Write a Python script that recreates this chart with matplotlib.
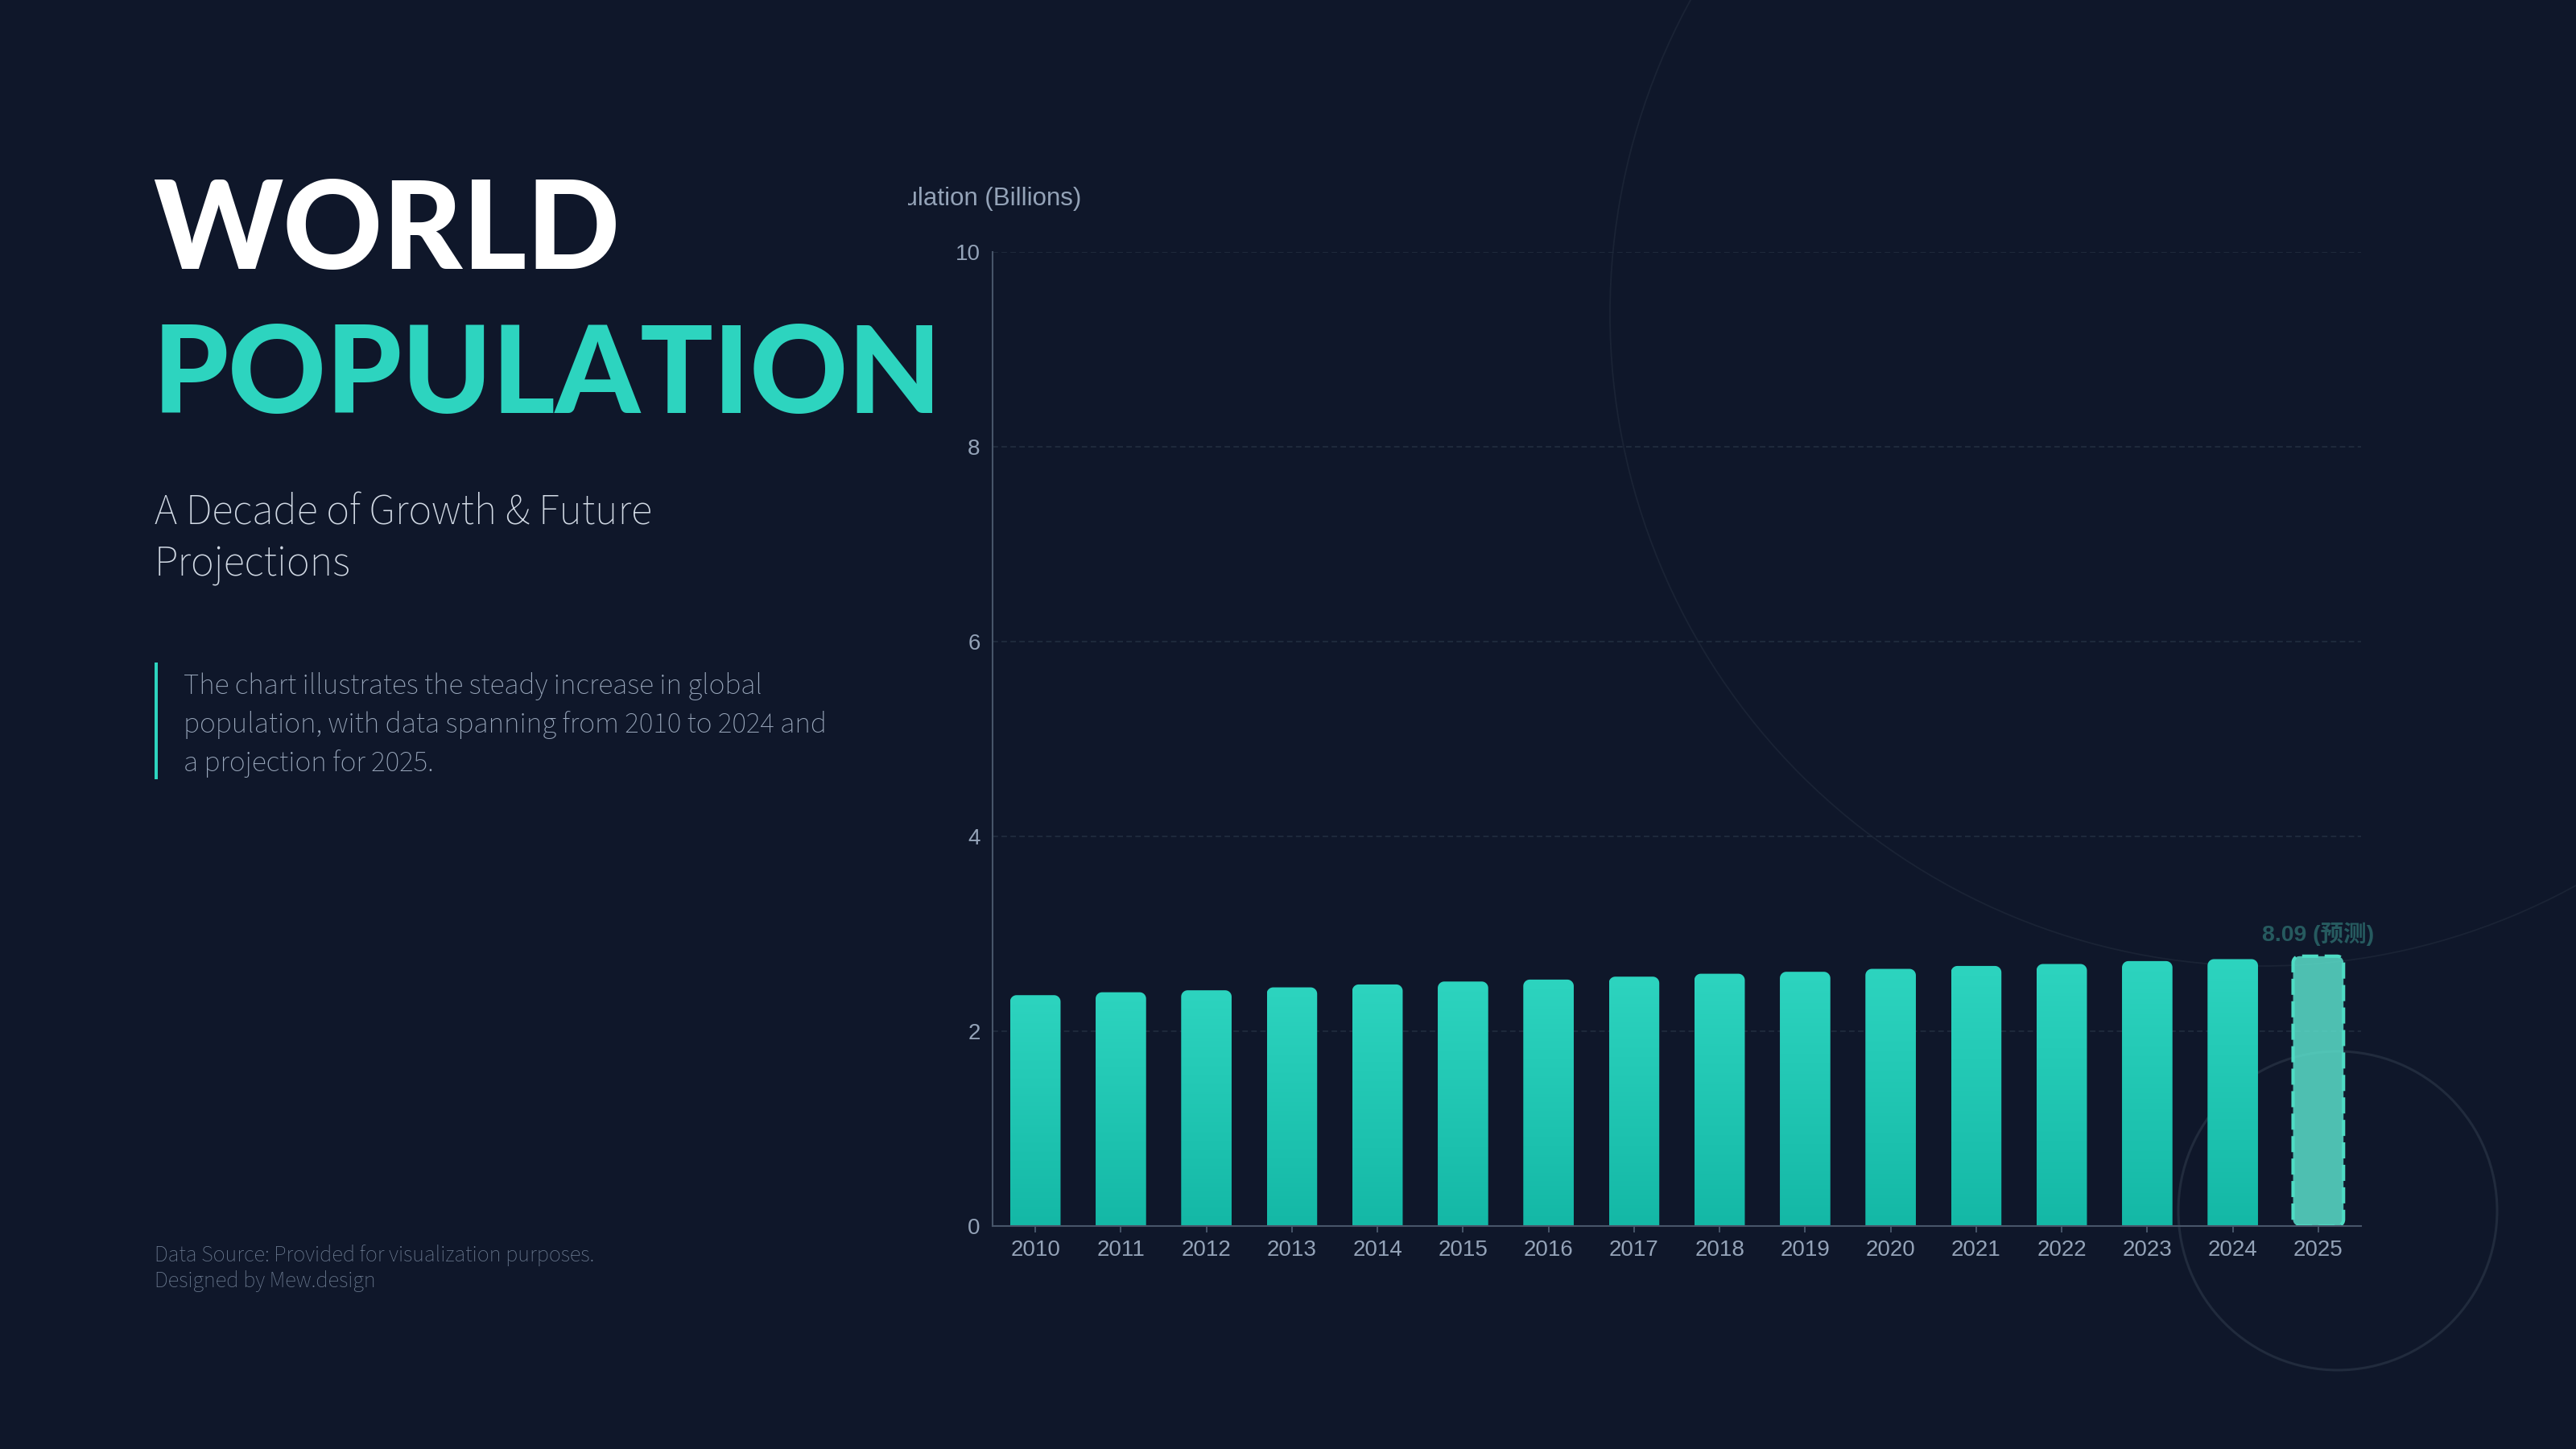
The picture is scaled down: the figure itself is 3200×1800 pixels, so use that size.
import numpy as np
import matplotlib
matplotlib.use("Agg")
import matplotlib.pyplot as plt
import matplotlib.font_manager as fm
from matplotlib.patches import Circle, PathPatch, Rectangle
from matplotlib.path import Path
from matplotlib.transforms import Bbox

# data (bar heights on the drawn 0-10 axis)
years = ["2010", "2011", "2012", "2013", "2014", "2015", "2016", "2017",
         "2018", "2019", "2020", "2021", "2022", "2023", "2024", "2025"]
heights = [2.37, 2.40, 2.42, 2.45, 2.48, 2.51, 2.53, 2.56,
           2.59, 2.61, 2.64, 2.67, 2.69, 2.72, 2.74, 2.77]
y_ticks = [0, 2, 4, 6, 8, 10]
forecast_label = "8.09 (预测)"
y_label = "Population (Billions)"

title_1 = "WORLD"
title_2 = "POPULATION"
subtitle = ["A Decade of Growth & Future", "Projections"]
paragraph = ["The chart illustrates the steady increase in global",
             "population, with data spanning from 2010 to 2024 and",
             "a projection for 2025."]
footer = ["Data Source: Provided for visualization purposes.",
          "Designed by Mew.design"]

BG = "#0f172a"
TEAL = "#2dd4bf"
TEAL_DARK = "#14b8a6"
W, H = 3200, 1800


def font_weight(f):
    w = f.weight
    if isinstance(w, str):
        w = fm.weight_dict.get(w, 400)
    return w


def static_face(f):
    name = f.fname.lower()
    return "variable" not in name and "[" not in name


def heaviest_font(families, min_weight=800):
    # heaviest static upright face of the first preferred family that has one
    for fam in families:
        faces = [f for f in fm.fontManager.ttflist
                 if f.name == fam and f.style == "normal" and static_face(f)
                 and font_weight(f) >= min_weight]
        if faces:
            best = max(faces, key=font_weight)
            return fm.FontProperties(fname=best.fname)
    return fm.FontProperties(family="DejaVu Sans", weight="bold")


def pick_family(cands, test):
    for c in cands:
        ws = [font_weight(f) for f in fm.fontManager.ttflist if f.name == c]
        if ws and test(ws):
            return c
    return "DejaVu Sans"


heavy_prop = heaviest_font(["Montserrat", "Montserrat Black", "Montserrat ExtraBold",
                            "Lato", "Lato Black", "Roboto", "Roboto Black", "Open Sans"])
light_font = pick_family(["Source Sans Pro", "Source Sans 3", "Lato", "Open Sans", "Roboto"],
                         lambda ws: min(ws) <= 300)
body_font = pick_family(["Source Sans Pro", "Source Sans 3", "Lato", "Noto Sans"],
                        lambda ws: True)
chart_font = ["Liberation Sans", "Noto Sans CJK SC", "DejaVu Sans"]


def rounded_bar(x0, x1, top, rx, ry, round_bottom=False):
    t = np.linspace(0, np.pi / 2, 10)
    verts = [(x0, 0 if not round_bottom else ry)]
    verts += list(zip(x0 + rx - rx * np.cos(t), top - ry + ry * np.sin(t)))
    verts += list(zip(x1 - rx + rx * np.sin(t), top - ry + ry * np.cos(t)))
    if round_bottom:
        verts += list(zip(x1 - rx + rx * np.cos(t), ry - ry * np.sin(t)))
        verts += list(zip(x0 + rx - rx * np.sin(t), ry - ry * np.cos(t)))
    else:
        verts += [(x1, 0)]
    verts.append(verts[0])
    codes = [Path.MOVETO] + [Path.LINETO] * (len(verts) - 2) + [Path.CLOSEPOLY]
    return Path(verts, codes)


fig = plt.figure(figsize=(32, 18), dpi=100, facecolor=BG)
renderer = fig.canvas.get_renderer()

# background layer in pixel coordinates
bg = fig.add_axes([0, 0, 1, 1], zorder=0)
bg.set_xlim(0, W)
bg.set_ylim(H, 0)
bg.axis("off")
bg.add_patch(Circle((2810, 390), 810, fill=False, ec="#1a2335", lw=1.3))
bg.add_patch(Circle((2904, 1504), 198, fill=False, ec="#212b3d", lw=2.2))

# chart
ax = fig.add_axes([1233 / W, (H - 1523) / H, 1700 / W, 1210 / H], zorder=1)
ax.set_facecolor("none")
ax.set_xlim(-0.5, len(years) - 0.5)
ax.set_ylim(0, 10)
ax.set_yticks(y_ticks)
ax.set_xticks(range(len(years)))
ax.set_xticklabels(years)
ax.yaxis.grid(True, color="#1f2a3c", lw=1.4, ls=(0, (3.5, 2.2)))
ax.set_axisbelow(True)
for s in ["top", "right"]:
    ax.spines[s].set_visible(False)
for s in ["left", "bottom"]:
    ax.spines[s].set_color("#475569")
    ax.spines[s].set_linewidth(1.5)
    ax.spines[s].set_zorder(3)
ax.tick_params(axis="x", length=5.8, width=1.4, color="#475569",
               labelcolor="#94a3b8", labelsize=20, pad=6.5)
ax.tick_params(axis="y", length=0, labelcolor="#94a3b8", labelsize=20, pad=11)
for lab in ax.get_xticklabels() + ax.get_yticklabels():
    lab.set_family(chart_font)

bars = ax.bar(range(len(years)), heights, width=0.59, color="none", edgecolor="none")

px_x = 1700 / len(years)
px_y = 1210 / 10
rx, ry = 8 / px_x, 8 / px_y

top_c = np.array(matplotlib.colors.to_rgb(TEAL))
bot_c = np.array(matplotlib.colors.to_rgb(TEAL_DARK))
grad = np.linspace(top_c, bot_c, 128).reshape(128, 1, 3)

for i, rect in enumerate(bars):
    x0, w, h = rect.get_x(), rect.get_width(), rect.get_height()
    if i < len(bars) - 1:
        patch = PathPatch(rounded_bar(x0, x0 + w, h, rx, ry), fc="none", ec="none")
        ax.add_patch(patch)
        im = ax.imshow(grad, extent=(x0, x0 + w, 0, h), aspect="auto",
                       interpolation="bilinear", zorder=2)
        im.set_clip_path(patch)
    else:
        patch = PathPatch(rounded_bar(x0, x0 + w, h, rx, ry, round_bottom=True),
                          fc=(0.369, 0.918, 0.831, 0.8), ec="#4fdcc4", lw=3,
                          ls=(0, (4.8, 1.9)), zorder=2)
        ax.add_patch(patch)

ax.set_xlim(-0.5, len(years) - 0.5)
ax.set_ylim(0, 10)

ax.annotate(forecast_label, (len(years) - 1, heights[-1]), xytext=(0, 9),
            textcoords="offset points", ha="center", va="bottom", fontsize=20.5,
            fontweight="bold", color="#265a5f", family=chart_font, zorder=4)

# axis title, clipped at the chart container edge
yl = bg.text(1343, 247, y_label, ha="right", va="center", fontsize=22.5,
             color="#94a3b8", family=chart_font)
yl.set_clip_box(Bbox.from_extents(1128, 0, W, H))
yl.set_clip_on(True)


def fit(t, target):
    w = t.get_window_extent(renderer).width
    t.set_fontsize(t.get_fontsize() * target / w)
    return t.get_fontsize()


# left panel text
t1 = bg.text(190, 334, title_1, ha="left", va="baseline", fontsize=100,
             color="white", fontproperties=heavy_prop)
fit(t1, 580)
t2 = bg.text(190, 513, title_2, ha="left", va="baseline", fontsize=100,
             color=TEAL, fontproperties=heavy_prop)
fit(t2, 980)

sub_base = [652, 715]
subs = [bg.text(192, y, s, ha="left", va="baseline", fontsize=36,
                fontweight=300, color="#d1d9e4", family=light_font)
        for s, y in zip(subtitle, sub_base)]
size = fit(subs[0], 618)
for t in subs:
    t.set_fontsize(size)

bg.add_patch(Rectangle((192, 823), 4, 145, fc=TEAL, ec="none"))
para_base = [862, 910, 958]
paras = [bg.text(228, y, s, ha="left", va="baseline", fontsize=23,
                 fontweight=500, color="#9aa8bc", family=body_font)
         for s, y in zip(paragraph, para_base)]
size = fit(paras[1], 802)
for t in paras:
    t.set_fontsize(size)

foot_base = [1567, 1599]
foots = [bg.text(192, y, s, ha="left", va="baseline", fontsize=17,
                 fontweight=500, color="#6b7a90", family=body_font)
         for s, y in zip(footer, foot_base)]
size = fit(foots[0], 546)
for t in foots:
    t.set_fontsize(size)

fig.savefig("out.png", dpi=100, facecolor=BG)
